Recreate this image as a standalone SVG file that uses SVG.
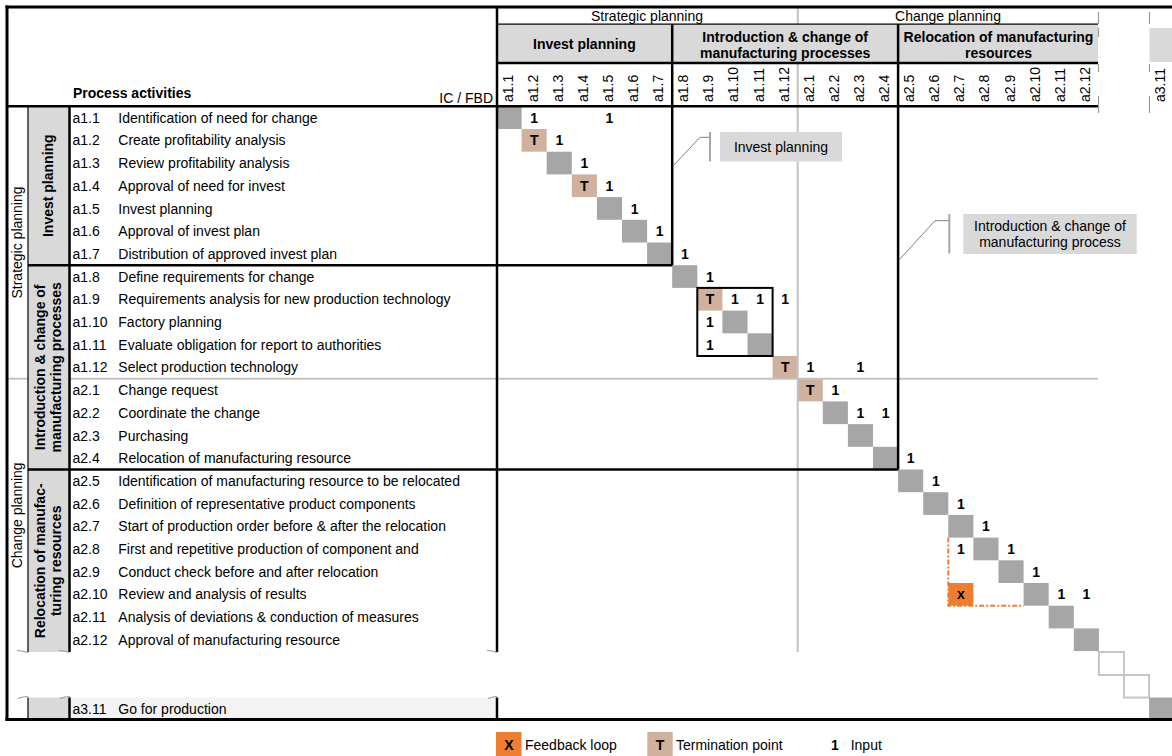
<svg xmlns="http://www.w3.org/2000/svg" width="1172" height="756" viewBox="0 0 1172 756">
  <style>
    text { font-family: "Liberation Sans", Arial, sans-serif; font-size: 14px; fill: #000; }
    .b { font-weight: bold; }
    .c { text-anchor: middle; }
    .e { text-anchor: end; }
    .gh { fill: #d9d9d9; }
    .d { fill: #a6a6a6; }
    .t { fill: #cfb19e; }
    .fb { fill: #ed7d31; }
    .thick { stroke: #000; stroke-width: 2.5; fill: none; }
    .thin { stroke: #000; stroke-width: 1.2; fill: none; }
    .sep { stroke: #c3c3c3; stroke-width: 2; fill: none; }
    .brk { stroke: #9a9a9a; stroke-width: 1.2; fill: none; }
    .ghost { fill: none; stroke: #c6c6c6; stroke-width: 2; }
    .call { stroke: #808080; stroke-width: 1; fill: none; }
    .bar { stroke: #a6a6a6; stroke-width: 2; }
    .mk { font-weight: bold; text-anchor: middle; }
    .col { font-size: 14px; }
  </style>

  <rect width="1172" height="756" fill="#fff"/>

  <!-- header backgrounds -->
  <g id="header-fills">
    <rect class="gh" x="497" y="24.5" width="601" height="38.5"/>
    <rect class="gh" x="1149.5" y="28" width="22.5" height="34"/>
  </g>

  <!-- group label column backgrounds -->
  <g id="group-fills">
    <rect class="gh" x="28" y="106.3" width="41" height="545.7"/>
    <rect class="gh" x="28" y="697.5" width="41" height="22"/>
    <rect x="70" y="697.5" width="427" height="22" fill="#f3f3f3"/>
  </g>

  <!-- upper header rows -->
  <g id="phase-header">
    <text class="c" x="647" y="20.5">Strategic planning</text>
    <text class="c" x="948" y="20.5">Change planning</text>
  </g>
  <g id="group-header">
    <text class="b c" x="584.4" y="48.5">Invest planning</text>
    <text class="b c" x="785.2" y="41.5">Introduction &amp; change of</text>
    <text class="b c" x="785.2" y="57.5">manufacturing processes</text>
    <text class="b c" x="998.5" y="41.5">Relocation of manufacturing</text>
    <text class="b c" x="998.5" y="57.5">resources</text>
  </g>

  <!-- column ids, rotated -->
  <g id="column-labels">
    <text transform="rotate(-90 512.5 102)" x="512.5" y="102">a1.1</text>
    <text transform="rotate(-90 537.6 102)" x="537.6" y="102">a1.2</text>
    <text transform="rotate(-90 562.7 102)" x="562.7" y="102">a1.3</text>
    <text transform="rotate(-90 587.8 102)" x="587.8" y="102">a1.4</text>
    <text transform="rotate(-90 612.9 102)" x="612.9" y="102">a1.5</text>
    <text transform="rotate(-90 638 102)" x="638" y="102">a1.6</text>
    <text transform="rotate(-90 663.1 102)" x="663.1" y="102">a1.7</text>
    <text transform="rotate(-90 688.2 102)" x="688.2" y="102">a1.8</text>
    <text transform="rotate(-90 713.3 102)" x="713.3" y="102">a1.9</text>
    <text transform="rotate(-90 738.4 102)" x="738.4" y="102">a1.10</text>
    <text transform="rotate(-90 763.5 102)" x="763.5" y="102">a1.11</text>
    <text transform="rotate(-90 788.6 102)" x="788.6" y="102">a1.12</text>
    <text transform="rotate(-90 813.7 102)" x="813.7" y="102">a2.1</text>
    <text transform="rotate(-90 838.8 102)" x="838.8" y="102">a2.2</text>
    <text transform="rotate(-90 863.9 102)" x="863.9" y="102">a2.3</text>
    <text transform="rotate(-90 889 102)" x="889" y="102">a2.4</text>
    <text transform="rotate(-90 914.1 102)" x="914.1" y="102">a2.5</text>
    <text transform="rotate(-90 939.2 102)" x="939.2" y="102">a2.6</text>
    <text transform="rotate(-90 964.3 102)" x="964.3" y="102">a2.7</text>
    <text transform="rotate(-90 989.4 102)" x="989.4" y="102">a2.8</text>
    <text transform="rotate(-90 1014.5 102)" x="1014.5" y="102">a2.9</text>
    <text transform="rotate(-90 1039.6 102)" x="1039.6" y="102">a2.10</text>
    <text transform="rotate(-90 1064.7 102)" x="1064.7" y="102">a2.11</text>
    <text transform="rotate(-90 1089.8 102)" x="1089.8" y="102">a2.12</text>
    <text transform="rotate(-90 1165.1 102)" x="1165.1" y="102">a3.11</text>
  </g>

  <g id="corner-labels">
    <text class="b" x="73" y="98">Process activities</text>
    <text class="e" x="493" y="102.5">IC / FBD</text>
  </g>

  <!-- rotated phase and group labels on the left -->
  <g id="phase-labels">
    <text class="c" transform="rotate(-90 22 242.5)" x="22" y="242.5">Strategic planning</text>
    <text class="c" transform="rotate(-90 22 515.3)" x="22" y="515.3">Change planning</text>
  </g>
  <g id="group-labels">
    <text class="b c" transform="rotate(-90 53.5 185.7)" x="53.5" y="185.7">Invest planning</text>
    <text class="b c" transform="rotate(-90 45.5 367.3)" x="45.5" y="367.3">Introduction &amp; change of</text>
    <text class="b c" transform="rotate(-90 61.5 367.3)" x="61.5" y="367.3">manufacturing processes</text>
    <text class="b c" transform="rotate(-90 45.5 560.8)" x="45.5" y="560.8">Relocation of manufac-</text>
    <text class="b c" transform="rotate(-90 61.5 560.8)" x="61.5" y="560.8">turing resources</text>
  </g>

  <!-- activity list -->
  <g id="activities">
    <text x="72.5" y="122.7">a1.1</text><text x="118.3" y="122.7">Identification of need for change</text>
    <text x="72.5" y="145.4">a1.2</text><text x="118.3" y="145.4">Create profitability analysis</text>
    <text x="72.5" y="168.1">a1.3</text><text x="118.3" y="168.1">Review profitability analysis</text>
    <text x="72.5" y="190.8">a1.4</text><text x="118.3" y="190.8">Approval of need for invest</text>
    <text x="72.5" y="213.5">a1.5</text><text x="118.3" y="213.5">Invest planning</text>
    <text x="72.5" y="236.2">a1.6</text><text x="118.3" y="236.2">Approval of invest plan</text>
    <text x="72.5" y="258.9">a1.7</text><text x="118.3" y="258.9">Distribution of approved invest plan</text>
    <text x="72.5" y="281.6">a1.8</text><text x="118.3" y="281.6">Define requirements for change</text>
    <text x="72.5" y="304.3">a1.9</text><text x="118.3" y="304.3">Requirements analysis for new production technology</text>
    <text x="72.5" y="327">a1.10</text><text x="118.3" y="327">Factory planning</text>
    <text x="72.5" y="349.7">a1.11</text><text x="118.3" y="349.7">Evaluate obligation for report to authorities</text>
    <text x="72.5" y="372.4">a1.12</text><text x="118.3" y="372.4">Select production technology</text>
    <text x="72.5" y="395.1">a2.1</text><text x="118.3" y="395.1">Change request</text>
    <text x="72.5" y="417.8">a2.2</text><text x="118.3" y="417.8">Coordinate the change</text>
    <text x="72.5" y="440.5">a2.3</text><text x="118.3" y="440.5">Purchasing</text>
    <text x="72.5" y="463.2">a2.4</text><text x="118.3" y="463.2">Relocation of manufacturing resource</text>
    <text x="72.5" y="485.9">a2.5</text><text x="118.3" y="485.9">Identification of manufacturing resource to be relocated</text>
    <text x="72.5" y="508.6">a2.6</text><text x="118.3" y="508.6">Definition of representative product components</text>
    <text x="72.5" y="531.3">a2.7</text><text x="118.3" y="531.3">Start of production order before &amp; after the relocation</text>
    <text x="72.5" y="554">a2.8</text><text x="118.3" y="554">First and repetitive production of component and</text>
    <text x="72.5" y="576.7">a2.9</text><text x="118.3" y="576.7">Conduct check before and after relocation</text>
    <text x="72.5" y="599.4">a2.10</text><text x="118.3" y="599.4">Review and analysis of results</text>
    <text x="72.5" y="622.1">a2.11</text><text x="118.3" y="622.1">Analysis of deviations &amp; conduction of measures</text>
    <text x="72.5" y="644.8">a2.12</text><text x="118.3" y="644.8">Approval of manufacturing resource</text>
    <text x="72.5" y="713.5">a3.11</text><text x="118.3" y="713.5">Go for production</text>
  </g>

  <!-- diagonal cells -->
  <g id="diagonal">
    <rect class="d" x="496.5" y="106.3" width="25.1" height="22.7"/>
    <rect class="t" x="521.6" y="129" width="25.1" height="22.7"/>
    <rect class="d" x="546.7" y="151.7" width="25.1" height="22.7"/>
    <rect class="t" x="571.8" y="174.4" width="25.1" height="22.7"/>
    <rect class="d" x="596.9" y="197.1" width="25.1" height="22.7"/>
    <rect class="d" x="622" y="219.8" width="25.1" height="22.7"/>
    <rect class="d" x="647.1" y="242.5" width="25.1" height="22.7"/>
    <rect class="d" x="672.2" y="265.2" width="25.1" height="22.7"/>
    <rect class="t" x="697.3" y="287.9" width="25.1" height="22.7"/>
    <rect class="d" x="722.4" y="310.6" width="25.1" height="22.7"/>
    <rect class="d" x="747.5" y="333.3" width="25.1" height="22.7"/>
    <rect class="t" x="772.6" y="356" width="25.1" height="22.7"/>
    <rect class="t" x="797.7" y="378.7" width="25.1" height="22.7"/>
    <rect class="d" x="822.8" y="401.4" width="25.1" height="22.7"/>
    <rect class="d" x="847.9" y="424.1" width="25.1" height="22.7"/>
    <rect class="d" x="873" y="446.8" width="25.1" height="22.7"/>
    <rect class="d" x="898.1" y="469.5" width="25.1" height="22.7"/>
    <rect class="d" x="923.2" y="492.2" width="25.1" height="22.7"/>
    <rect class="d" x="948.3" y="514.9" width="25.1" height="22.7"/>
    <rect class="d" x="973.4" y="537.6" width="25.1" height="22.7"/>
    <rect class="d" x="998.5" y="560.3" width="25.1" height="22.7"/>
    <rect class="d" x="1023.6" y="583" width="25.1" height="22.7"/>
    <rect class="d" x="1048.7" y="605.7" width="25.1" height="22.7"/>
    <rect class="d" x="1073.8" y="628.4" width="25.1" height="22.7"/>
    <rect class="ghost" x="1098.9" y="652" width="25.1" height="23"/>
    <rect class="ghost" x="1124" y="675" width="25.1" height="22.5"/>
    <rect class="d" x="1149.1" y="697.5" width="25.1" height="22"/>
  </g>

  <!-- orange feedback cell -->
  <g id="feedback">
    <polyline points="948.3,537.6 948.3,605.7 1023.6,605.7" fill="none" stroke="#ed7d31" stroke-width="2" stroke-dasharray="5 2 2 2"/>
    <rect class="fb" x="948.3" y="583" width="25.1" height="22.7"/>
    <text class="mk" x="960.9" y="599.4">x</text>
  </g>

  <!-- cell marks -->
  <g id="marks">
    <text class="mk" x="710" y="304.3">T</text>
    <text class="mk" x="534.2" y="145.4">T</text>
    <text class="mk" x="584.4" y="190.8">T</text>
    <text class="mk" x="785.2" y="372.4">T</text>
    <text class="mk" x="810.3" y="395.1">T</text>

    <text class="mk" x="534.2" y="122.7">1</text>
    <text class="mk" x="609.5" y="122.7">1</text>
    <text class="mk" x="559.3" y="145.4">1</text>
    <text class="mk" x="584.4" y="168.1">1</text>
    <text class="mk" x="609.5" y="190.8">1</text>
    <text class="mk" x="634.6" y="213.5">1</text>
    <text class="mk" x="659.7" y="236.2">1</text>
    <text class="mk" x="684.8" y="258.9">1</text>
    <text class="mk" x="709.9" y="281.6">1</text>
    <text class="mk" x="735" y="304.3">1</text>
    <text class="mk" x="760.1" y="304.3">1</text>
    <text class="mk" x="785.2" y="304.3">1</text>
    <text class="mk" x="709.9" y="327">1</text>
    <text class="mk" x="709.9" y="349.7">1</text>
    <text class="mk" x="810.3" y="372.4">1</text>
    <text class="mk" x="860.5" y="372.4">1</text>
    <text class="mk" x="835.4" y="395.1">1</text>
    <text class="mk" x="860.5" y="417.8">1</text>
    <text class="mk" x="885.6" y="417.8">1</text>
    <text class="mk" x="910.7" y="463.2">1</text>
    <text class="mk" x="935.8" y="485.9">1</text>
    <text class="mk" x="960.9" y="508.6">1</text>
    <text class="mk" x="986" y="531.3">1</text>
    <text class="mk" x="960.9" y="554">1</text>
    <text class="mk" x="1011.1" y="554">1</text>
    <text class="mk" x="1036.2" y="576.7">1</text>
    <text class="mk" x="1061.3" y="599.4">1</text>
    <text class="mk" x="1086.4" y="599.4">1</text>
  </g>

  <!-- grid lines -->
  <g id="grid">
    <line class="sep" x1="797.7" y1="7" x2="797.7" y2="24"/>
    <line class="sep" x1="797.7" y1="63" x2="797.7" y2="652"/>
    <line class="sep" x1="7" y1="378.7" x2="28" y2="378.7"/>
    <line class="sep" x1="69" y1="378.7" x2="1098" y2="378.7"/>

    <line class="thin" x1="497" y1="24.2" x2="1098" y2="24.2"/>
    <line class="thick" x1="497" y1="63" x2="1098" y2="63"/>
    <line class="thick" x1="7" y1="106.3" x2="1098" y2="106.3"/>
    <line class="thick" x1="497" y1="7" x2="497" y2="652"/>
    <line class="thick" x1="497" y1="697.5" x2="497" y2="719"/>
    <line class="thick" x1="672.2" y1="24" x2="672.2" y2="265.2"/>
    <line class="thick" x1="28" y1="265.2" x2="672.2" y2="265.2"/>
    <line class="thick" x1="898.1" y1="24" x2="898.1" y2="469.5"/>
    <line class="thick" x1="28" y1="469.5" x2="898.1" y2="469.5"/>
    <line class="thick" x1="69.5" y1="106.3" x2="69.5" y2="652"/>
    <line class="thick" x1="69.5" y1="697.5" x2="69.5" y2="719"/>
    <line class="thin" x1="28" y1="106.3" x2="28" y2="652"/>
    <line class="thin" x1="28" y1="697.5" x2="28" y2="719"/>

    <rect x="697.3" y="287.9" width="75.3" height="68.1" fill="none" stroke="#000" stroke-width="2"/>

    <!-- outer frame -->
    <line x1="5.5" y1="7" x2="1172" y2="7" stroke="#000" stroke-width="3"/>
    <line x1="7" y1="5.5" x2="7" y2="721" stroke="#000" stroke-width="3"/>
    <line x1="5.5" y1="719.5" x2="1172" y2="719.5" stroke="#000" stroke-width="3"/>

    <!-- table break marks -->
    <path class="brk" d="M17,650.5 q5,0 11,2 M59,650.5 q5,0 10.5,2 M487,650.5 q5,0 10,2 M18,698.5 q5,-2 10,-2 M60,698.5 q5,-2 10,-2 M488,698.5 q5,-2 9,-2"/>
    <path class="brk" d="M1098.5,12 v12 M1098.5,28 v9 M1098.5,64 v8 M1098.5,96 v17 M1149.5,12 v12 M1149.5,64 v8 M1149.5,96 v17"/>
  </g>

  <!-- callouts -->
  <g id="callout-invest">
    <polyline class="call" points="673,166 700,137.3 710,137.3"/>
    <line class="bar" x1="710" y1="132" x2="710" y2="161.5"/>
    <rect class="gh" x="720" y="132" width="122" height="29.5"/>
    <text class="c" x="781" y="151.5">Invest planning</text>
  </g>
  <g id="callout-intro">
    <polyline class="call" points="899,260 935,220.7 949,220.7"/>
    <line class="bar" x1="949.3" y1="214" x2="949.3" y2="253.5"/>
    <rect class="gh" x="963.3" y="214" width="173.4" height="40"/>
    <text class="c" x="1050" y="231">Introduction &amp; change of</text>
    <text class="c" x="1050" y="246.5">manufacturing process</text>
  </g>

  <!-- legend -->
  <g id="legend">
    <rect class="fb" x="496" y="732" width="25.5" height="24"/>
    <text class="mk" x="508.8" y="749.5">X</text>
    <text x="525" y="749.5">Feedback loop</text>
    <rect class="t" x="647.3" y="732" width="25.4" height="24"/>
    <text class="mk" x="660" y="749.5">T</text>
    <text x="676" y="749.5">Termination point</text>
    <text class="mk" x="835" y="749.5">1</text>
    <text x="850.7" y="749.5">Input</text>
  </g>
</svg>
